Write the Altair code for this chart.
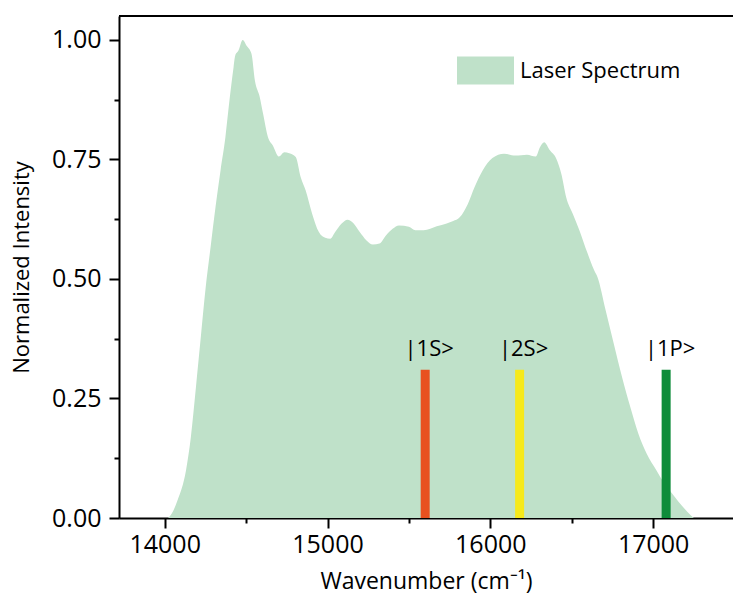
import altair as alt
import pandas as pd

# Laser spectrum
wavenumber = [14020, 14030, 14080, 14131, 14161, 14192, 14222, 14252, 14282, 14312,
              14343, 14373, 14393, 14423, 14433, 14453, 14479, 14503, 14533, 14554,
              14584, 14604, 14634, 14664, 14701, 14735, 14765, 14805, 14835, 14866,
              14906, 14947, 14986, 15017, 15047, 15087, 15123, 15158, 15198, 15238,
              15279, 15319, 15359, 15400, 15439, 15500, 15540, 15590, 15631, 15671,
              15732, 15772, 15812, 15862, 15903, 15953, 16013, 16084, 16154, 16225,
              16279, 16306, 16331, 16366, 16406, 16436, 16466, 16507, 16547, 16598,
              16638, 16658, 16708, 16758, 16809, 16859, 16909, 16960, 17020, 17070,
              17131, 17181, 17231, 17251]
intensity = [0.0, 0.003, 0.038, 0.100, 0.170, 0.274, 0.379, 0.483, 0.567, 0.650,
             0.727, 0.797, 0.859, 0.943, 0.967, 0.978, 1.000, 0.988, 0.971, 0.915,
             0.880, 0.846, 0.797, 0.779, 0.756, 0.765, 0.763, 0.755, 0.713, 0.685,
             0.636, 0.598, 0.586, 0.584, 0.598, 0.616, 0.624, 0.617, 0.598, 0.581,
             0.572, 0.574, 0.591, 0.605, 0.612, 0.609, 0.602, 0.602, 0.605, 0.610,
             0.616, 0.621, 0.629, 0.657, 0.692, 0.727, 0.753, 0.762, 0.758, 0.760,
             0.756, 0.776, 0.786, 0.769, 0.751, 0.720, 0.671, 0.636, 0.602, 0.553,
             0.518, 0.504, 0.435, 0.365, 0.295, 0.233, 0.177, 0.135, 0.100, 0.072,
             0.045, 0.024, 0.006, 0.0]

# Transition lines
state_labels = ["|1S>", "|2S>", "|1P>"]
state_wn = [15600, 16180, 17080]
state_height = [0.31, 0.31, 0.31]
state_colors = ["#E8511F", "#F6E91B", "#0E8C3A"]

series_name = "Laser Spectrum"
fill_color = "#BFE1C9"

x_major = [14000, 15000, 16000, 17000]
x_minor = [14500, 15500, 16500]
y_major = [0.0, 0.25, 0.5, 0.75, 1.0]
y_minor = [0.125, 0.375, 0.625, 0.875]

X_DOMAIN = [13750, 17460]
Y_DOMAIN = [0, 1.05]
FONT = "Open Sans"

spec_df = pd.DataFrame({"wn": wavenumber, "I": intensity, "series": series_name})
state_df = pd.DataFrame({"label": state_labels, "wn": state_wn, "h": state_height,
                         "color": state_colors})

xs = alt.Scale(domain=X_DOMAIN, nice=False, zero=False)
ys = alt.Scale(domain=Y_DOMAIN, nice=False, zero=False)

area = alt.Chart(spec_df).mark_area(opacity=1, interpolate="monotone").encode(
    x=alt.X("wn:Q", scale=xs,
            axis=alt.Axis(values=x_major, orient="bottom", title="Wavenumber (cm⁻¹)",
                          tickSize=10, tickWidth=2, domainWidth=2, domainColor="black",
                          tickColor="black", labelFontSize=25, labelFont=FONT,
                          labelColor="black", labelPadding=4, titleFont=FONT,
                          titleFontSize=23, titleFontWeight="normal", titleColor="black",
                          titlePadding=13, grid=False, format="d", labelFlush=False)),
    y=alt.Y("I:Q", scale=ys,
            axis=alt.Axis(values=y_major, orient="left", title="Normalized Intensity",
                          tickSize=10, tickWidth=2, domainWidth=2, domainColor="black",
                          tickColor="black", labelFontSize=25, labelFont=FONT,
                          labelColor="black", labelPadding=8, titleFont=FONT,
                          titleFontSize=22, titleFontWeight="normal", titleColor="black",
                          titlePadding=18, grid=False, format=".2f", labelFlush=False)),
    color=alt.Color("series:N",
                    scale=alt.Scale(domain=[series_name], range=[fill_color]),
                    legend=alt.Legend(orient="none", legendX=338, legendY=26, title=None,
                                      symbolType="M-1,-0.491H1V0.491H-1Z",
                                      symbolSize=3249, symbolStrokeWidth=0,
                                      symbolOpacity=1, labelFont=FONT, labelFontSize=22,
                                      labelColor="black", labelOffset=6, labelLimit=0,
                                      padding=0)),
)

bars = alt.Chart(state_df).mark_bar(size=9).encode(
    x=alt.X("wn:Q", scale=xs,
            axis=alt.Axis(values=x_minor, orient="bottom", title=None, labels=False,
                          domain=False, tickSize=5, tickWidth=2, tickColor="black",
                          grid=False)),
    y=alt.Y("h:Q", scale=ys,
            axis=alt.Axis(values=y_minor, orient="left", title=None, labels=False,
                          domain=False, tickSize=5, tickWidth=2, tickColor="black",
                          grid=False)),
    color=alt.Color("color:N", scale=None),
)

labels = alt.Chart(state_df).mark_text(
    font=FONT, fontSize=22, color="black", baseline="alphabetic", align="center",
    dy=-14, dx=4
).encode(
    x=alt.X("wn:Q", scale=xs, axis=None),
    y=alt.Y("h:Q", scale=ys, axis=None),
    text="label:N",
)

top_line = alt.Chart(spec_df).mark_rule(color="black", strokeWidth=2).encode(
    x=alt.value(0), x2=alt.value(614), y=alt.value(0)
)

chart = alt.layer(area, bars, labels, top_line).resolve_axis(
    x="independent", y="independent"
).properties(
    width=614, height=502,
    autosize=alt.AutoSizeParams(type="none"),
    padding={"left": 119, "top": 16, "right": 0, "bottom": 81},
).configure_view(stroke=None).configure(background="white")

chart.save("out.html", embed_options={"renderer": "svg", "actions": False})
